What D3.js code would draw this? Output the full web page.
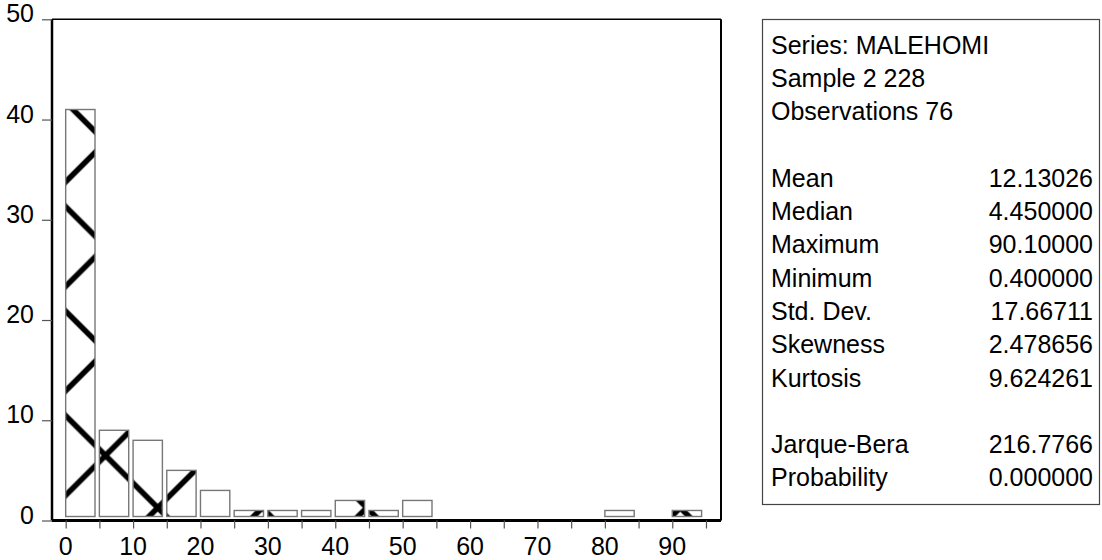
<!DOCTYPE html>
<html>
<head>
<meta charset="utf-8">
<script src="https://cdn.jsdelivr.net/npm/d3@7"></script>
<style>
  body { margin: 0; background: #fff; }
  svg { display: block; font-family: "Liberation Sans", Arial, sans-serif; }
</style>
</head>
<body>
<div id="chart"></div>
<script>
// histogram bins (lower edge) and counts
const binStarts = [0, 5, 10, 15, 20, 25, 30, 35, 40, 45, 50, 55, 60, 65, 70, 75, 80, 85, 90];
const counts = [41, 9, 8, 5, 3, 1, 1, 1, 2, 1, 2, 0, 0, 0, 0, 0, 1, 0, 1];
const binWidth = 5;

const xTickLabels = [0, 10, 20, 30, 40, 50, 60, 70, 80, 90];
const xMinorTicks = d3.range(0, 100, 5);
const yTickLabels = [0, 10, 20, 30, 40, 50];

// stats panel (blank strings = empty rows)
const statLabels = ['Series: MALEHOMI', 'Sample 2 228', 'Observations 76', '',
  'Mean', 'Median', 'Maximum', 'Minimum', 'Std. Dev.', 'Skewness', 'Kurtosis', '',
  'Jarque-Bera', 'Probability'];
const statValues = ['', '', '', '',
  '12.13026', '4.450000', '90.10000', '0.400000', '17.66711', '2.478656', '9.624261', '',
  '216.7766', '0.000000'];

const width = 1102, height = 560;
const plot = { left: 52, right: 721, top: 19.3, bottom: 520.5 };

const svg = d3.select('#chart')
  .append('svg')
  .attr('width', width)
  .attr('height', height);

const x = d3.scaleLinear().domain([-2.03, 97.23]).range([plot.left, plot.right]);
const y = d3.scaleLinear().domain([0, 50]).range([plot.bottom, plot.top]);

// big cross-hatch pattern, 45deg lines
const P = 104.5;
const pat = svg.append('defs').append('pattern')
  .attr('id', 'hatch')
  .attr('patternUnits', 'userSpaceOnUse')
  .attr('x', 105.5).attr('y', 455.5)
  .attr('width', P).attr('height', P);
let hp = '';
[-P, 0, P].forEach((d) => {
  hp += `M${d},0L${d + P},${P}M${d},${P}L${d + P},0`;
});
pat.append('path')
  .attr('d', hp)
  .attr('stroke', '#000')
  .attr('stroke-width', 5.5)
  .attr('fill', 'none');

const bins = binStarts.map((s, i) => ({ lo: s, hi: s + binWidth, n: counts[i] }))
  .filter((d) => d.n > 0);

const barW = (d) => (x(d.hi) - x(d.lo)) * 0.87;
const barBase = y(0) - 4;

// white fill, hatch, outline
const g = svg.append('g');
g.selectAll('.bar-bg')
  .data(bins)
  .enter()
  .append('rect')
  .attr('x', (d) => x(d.lo))
  .attr('y', (d) => y(d.n))
  .attr('width', barW)
  .attr('height', (d) => barBase - y(d.n))
  .attr('fill', '#fff');
g.selectAll('.bar')
  .data(bins)
  .enter()
  .append('rect')
  .attr('class', 'bar')
  .attr('x', (d) => x(d.lo))
  .attr('y', (d) => y(d.n))
  .attr('width', barW)
  .attr('height', (d) => barBase - y(d.n))
  .attr('fill', 'url(#hatch)')
  .attr('stroke', '#777')
  .attr('stroke-width', 1.4);

// frame
svg.append('line')
  .attr('x1', plot.left).attr('x2', plot.right)
  .attr('y1', plot.top).attr('y2', plot.top)
  .attr('stroke', '#000').attr('stroke-width', 1.5);
svg.append('line')
  .attr('x1', plot.right).attr('x2', plot.right)
  .attr('y1', plot.top).attr('y2', plot.bottom)
  .attr('stroke', '#000').attr('stroke-width', 2);

// x axis
const xAxis = svg.append('g')
  .attr('transform', 'translate(0,' + plot.bottom + ')')
  .call(d3.axisBottom(x).tickValues(xMinorTicks).tickSize(8).tickFormat(''));
xAxis.select('.domain')
  .attr('d', `M${plot.left},0H${plot.right}`)
  .attr('stroke', '#000').attr('stroke-width', 3);
xAxis.selectAll('.tick line').attr('stroke', '#555').attr('stroke-width', 1.2);

svg.append('g').selectAll('text')
  .data(xTickLabels)
  .enter()
  .append('text')
  .attr('x', (d) => x(d))
  .attr('y', 555)
  .attr('text-anchor', 'middle')
  .attr('font-size', 25)
  .text((d) => d);

// y axis
const yAxis = svg.append('g')
  .attr('transform', 'translate(' + plot.left + ',0)')
  .call(d3.axisLeft(y).tickValues(yTickLabels).tickSize(10).tickFormat(''));
yAxis.select('.domain')
  .attr('d', `M0,${plot.top}V${plot.bottom}`)
  .attr('stroke', '#000').attr('stroke-width', 2.5);
yAxis.selectAll('.tick line').attr('stroke', '#555').attr('stroke-width', 1.2);

svg.append('g').selectAll('text')
  .data(yTickLabels)
  .enter()
  .append('text')
  .attr('x', 34)
  .attr('y', (d) => y(d) + 3)
  .attr('text-anchor', 'end')
  .attr('font-size', 25)
  .text((d) => d);

// stats box
const box = { x: 762.5, y: 19.5, w: 337, h: 485 };
svg.append('rect')
  .attr('x', box.x).attr('y', box.y)
  .attr('width', box.w).attr('height', box.h)
  .attr('fill', '#fff')
  .attr('stroke', '#444').attr('stroke-width', 1.2);

const rowY = (i) => 53.5 + 33.3 * i;
svg.append('g').selectAll('text')
  .data(statLabels)
  .enter()
  .append('text')
  .attr('x', 771)
  .attr('y', (d, i) => rowY(i))
  .attr('font-size', 25)
  .text((d) => d);
svg.append('g').selectAll('text')
  .data(statValues)
  .enter()
  .append('text')
  .attr('x', 1093)
  .attr('y', (d, i) => rowY(i))
  .attr('text-anchor', 'end')
  .attr('font-size', 25)
  .text((d) => d);
</script>
</body>
</html>
